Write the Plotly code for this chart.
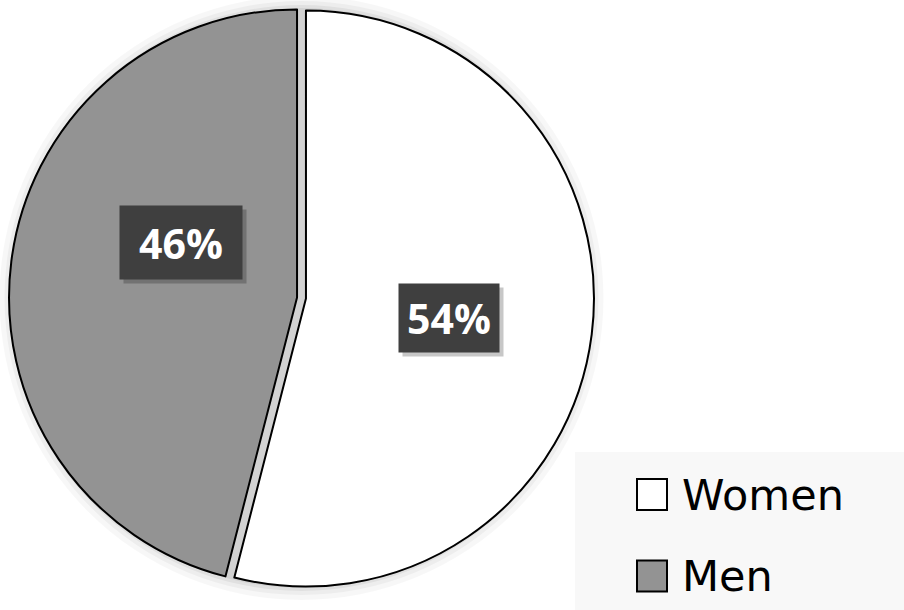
import plotly.graph_objects as go

labels = ["Women", "Men"]
values = [54, 46]
colors = ["#ffffff", "#939393"]
label_text = ["54%", "46%"]

W, H = 904, 610

def px(x):
    return x / W

def py(y):
    return 1 - y / H

# pie geometry (pixels)
cx, cy, r = 301.5, 298.0, 288.0
pull = 0.0156
half = r * (1 + pull)

fig = go.Figure()
fig.add_trace(go.Pie(
    labels=labels,
    values=values,
    sort=False,
    direction="clockwise",
    rotation=0,
    pull=[pull, pull],
    marker=dict(colors=colors, line=dict(color="#000000", width=2)),
    textinfo="none",
    showlegend=False,
    domain=dict(x=[px(cx - half), px(cx + half)], y=[py(cy + half), py(cy - half)]),
))

shapes = []
# soft glow behind the pie
for extra, op in [(14, 0.03), (9, 0.04), (5, 0.05), (2, 0.06)]:
    rr = r + extra
    shapes.append(dict(type="circle", xref="paper", yref="paper", layer="below",
                       x0=px(cx - rr), x1=px(cx + rr), y0=py(cy + rr), y1=py(cy - rr),
                       fillcolor=f"rgba(0,0,0,{op})", line=dict(width=0)))

# legend panel
shapes.append(dict(type="rect", xref="paper", yref="paper", layer="below",
                   x0=px(575), x1=1, y0=0, y1=py(452),
                   fillcolor="#f8f8f8", line=dict(width=0)))

annotations = []
# data labels (boxes with shadow)
label_boxes = [(449, 318, 100, 68), (181, 242.5, 122, 73)]
for (bx, by, bw, bh), t in zip(label_boxes, label_text):
    annotations.append(dict(xref="paper", yref="paper", x=px(bx), y=py(by), text="",
                            xanchor="center", yanchor="middle",
                            showarrow=False, width=bw, height=bh, xshift=4, yshift=-4,
                            bgcolor="rgba(0,0,0,0.22)", borderpad=0))
    annotations.append(dict(xref="paper", yref="paper", x=px(bx), y=py(by), text=f"<b>{t}</b>",
                            xanchor="center", yanchor="middle",
                            showarrow=False, width=bw, height=bh, borderpad=0,
                            bgcolor="#3f3f3f",
                            font=dict(family="Open Sans", size=41, color="#ffffff")))

# custom legend built from data arrays
legend_rows = [494.5, 576]
for name, col, ly in zip(labels, colors, legend_rows):
    shapes.append(dict(type="rect", xref="paper", yref="paper",
                       x0=px(637), x1=px(667), y0=py(ly + 15.5), y1=py(ly - 15.5),
                       fillcolor=col, line=dict(color="#000000", width=2)))
    annotations.append(dict(xref="paper", yref="paper", x=px(680), y=py(ly), text=name,
                            xanchor="left", yanchor="middle", showarrow=False,
                            font=dict(family="DejaVu Sans", size=43, color="#000000")))

fig.update_layout(
    width=W, height=H,
    margin=dict(l=0, r=0, t=0, b=0),
    paper_bgcolor="#ffffff",
    plot_bgcolor="#ffffff",
    shapes=shapes,
    annotations=annotations,
)

fig.write_html("out.html")
